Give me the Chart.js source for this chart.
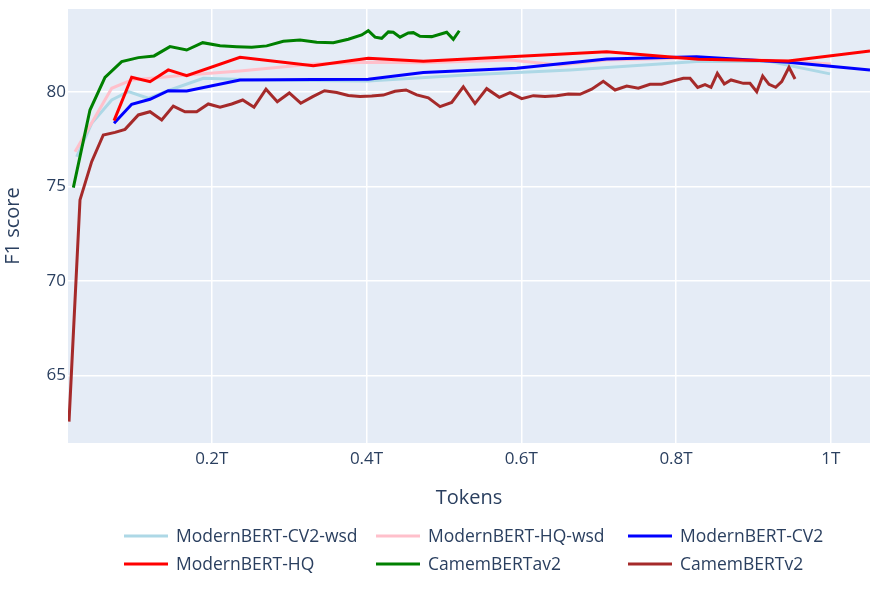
<!DOCTYPE html>
<html>
<head>
<meta charset="utf-8">
<script src="https://cdn.jsdelivr.net/npm/chart.js@4.4.1/dist/chart.umd.min.js"></script>
<style>
  html, body { margin: 0; padding: 0; background: #ffffff; }
  #wrap { width: 877px; height: 603px; position: relative; }
</style>
</head>
<body>
<div id="wrap"><canvas id="c"></canvas></div>
<script>
// ---- Data (tokens in T, F1 score) ----
const seriesNames = ['ModernBERT-CV2-wsd', 'ModernBERT-HQ-wsd', 'ModernBERT-CV2', 'ModernBERT-HQ', 'CamemBERTav2', 'CamemBERTv2'];

const cv2wsdX = [0.0254, 0.0448, 0.0707, 0.0922, 0.118, 0.146, 0.189, 0.262, 0.4023, 0.5338, 0.663, 0.8267, 0.9215, 0.999];
const cv2wsdY = [76.56, 78.33, 79.56, 80.0, 79.65, 80.09, 80.71, 80.62, 80.57, 80.90, 81.15, 81.59, 81.59, 80.94];

const hqwsdX = [0.0233, 0.0707, 0.0965, 0.1676, 0.2365, 0.3312, 0.4023, 0.4734, 0.5855, 0.65, 0.7104, 0.8267, 0.9451, 1.0];
const hqwsdY = [76.83, 80.18, 80.62, 80.88, 81.09, 81.46, 81.55, 81.53, 81.68, 81.41, 81.68, 81.78, 81.62, 81.46];

const cv2X = [0.0737, 0.0965, 0.1202, 0.1438, 0.1676, 0.2365, 0.3312, 0.4023, 0.4734, 0.5941, 0.7104, 0.8267, 0.9451, 1.0507];
const cv2Y = [78.33, 79.33, 79.60, 80.05, 80.04, 80.62, 80.65, 80.66, 81.01, 81.24, 81.73, 81.85, 81.55, 81.15];

const hqX = [0.0737, 0.0965, 0.1202, 0.1438, 0.1676, 0.2365, 0.3312, 0.4023, 0.4734, 0.7104, 0.8288, 0.9451, 1.0507];
const hqY = [78.47, 80.76, 80.53, 81.15, 80.85, 81.82, 81.37, 81.77, 81.61, 82.11, 81.71, 81.62, 82.15];

const camav2X = [0.0211, 0.0426, 0.0620, 0.0836, 0.1051, 0.1254, 0.1460, 0.1676, 0.1883, 0.2107, 0.2322, 0.2516, 0.2710, 0.2925, 0.3141, 0.3356, 0.3571, 0.3765, 0.3938, 0.4023, 0.4110, 0.4196, 0.4282, 0.4346, 0.4433, 0.4540, 0.4605, 0.4691, 0.4843, 0.5036, 0.5122, 0.5199];
const camav2Y = [74.93, 79.03, 80.76, 81.59, 81.80, 81.89, 82.38, 82.20, 82.59, 82.43, 82.38, 82.35, 82.42, 82.66, 82.73, 82.61, 82.59, 82.77, 83.00, 83.22, 82.88, 82.82, 83.16, 83.14, 82.88, 83.10, 83.12, 82.93, 82.91, 83.14, 82.77, 83.22];

const camv2X = [0.0155, 0.0297, 0.0448, 0.0598, 0.0750, 0.0879, 0.1051, 0.1202, 0.1353, 0.1503, 0.1654, 0.1805, 0.1955, 0.2107, 0.2258, 0.2400, 0.2546, 0.2701, 0.2847, 0.3002, 0.3150, 0.3305, 0.3457, 0.3615, 0.3765, 0.3916, 0.4067, 0.4217, 0.4368, 0.4511, 0.4649, 0.4799, 0.4950, 0.5101, 0.5251, 0.5402, 0.5553, 0.5716, 0.5855, 0.6006, 0.6156, 0.6307, 0.6458, 0.6608, 0.6759, 0.6910, 0.7060, 0.7212, 0.7363, 0.7513, 0.7664, 0.7815, 0.7965, 0.8094, 0.8181, 0.8280, 0.8375, 0.8452, 0.8534, 0.8624, 0.8711, 0.8870, 0.8956, 0.9043, 0.9120, 0.9202, 0.9288, 0.9366, 0.9460, 0.9538];
const camv2Y = [62.56, 74.28, 76.30, 77.71, 77.85, 78.01, 78.77, 78.94, 78.50, 79.24, 78.94, 78.94, 79.35, 79.18, 79.35, 79.56, 79.18, 80.13, 79.47, 79.93, 79.39, 79.74, 80.05, 79.96, 79.80, 79.74, 79.77, 79.82, 80.02, 80.09, 79.83, 79.67, 79.21, 79.43, 80.26, 79.37, 80.16, 79.70, 79.95, 79.63, 79.79, 79.74, 79.79, 79.88, 79.86, 80.13, 80.55, 80.09, 80.30, 80.18, 80.39, 80.39, 80.57, 80.71, 80.71, 80.22, 80.37, 80.23, 80.97, 80.41, 80.62, 80.44, 80.44, 80.00, 80.83, 80.39, 80.23, 80.53, 81.29, 80.67];

const xTickValues = [0.2, 0.4, 0.6, 0.8, 1.0];
const xTickLabels = ['0.2T', '0.4T', '0.6T', '0.8T', '1T'];
const yTickValues = [65, 70, 75, 80];
const yTickLabels = ['65', '70', '75', '80'];

// ---- Build datasets ----
const zip = (xs, ys) => xs.map((x, i) => ({ x: x, y: ys[i] }));
const colors = ['#add8e6', '#ffc0cb', '#0000ff', '#ff0000', '#008000', '#a52a2a'];
const allX = [cv2wsdX, hqwsdX, cv2X, hqX, camav2X, camv2X];
const allY = [cv2wsdY, hqwsdY, cv2Y, hqY, camav2Y, camv2Y];

const datasets = seriesNames.map((name, i) => ({
  label: name,
  data: zip(allX[i], allY[i]),
  borderColor: colors[i],
  backgroundColor: colors[i],
  borderWidth: 3,
  pointRadius: 0,
  pointHoverRadius: 0,
  tension: 0,
  fill: false,
  order: seriesNames.length - i
}));

const FONT = '"Open Sans", "Noto Sans", sans-serif';
const TXT = '#2a3f5f';

const bgPlugin = {
  id: 'plotBg',
  beforeDraw(chart) {
    const { ctx, chartArea: a } = chart;
    ctx.save();
    ctx.fillStyle = '#ffffff';
    ctx.fillRect(0, 0, chart.width, chart.height);
    ctx.fillStyle = '#e5ecf6';
    ctx.fillRect(a.left, a.top, a.right - a.left, a.bottom - a.top);
    ctx.restore();
  }
};

const legendPlugin = {
  id: 'plotlyLegend',
  afterDraw(chart) {
    const ctx = chart.ctx;
    const cols = [124, 376, 628];
    const rows = [536, 564];
    chart.data.datasets.forEach((ds, i) => {
      const x = cols[i % 3];
      const y = rows[Math.floor(i / 3)];
      ctx.save();
      ctx.strokeStyle = ds.borderColor;
      ctx.lineWidth = 3;
      ctx.beginPath();
      ctx.moveTo(x, y);
      ctx.lineTo(x + 44, y);
      ctx.stroke();
      ctx.fillStyle = TXT;
      ctx.font = '17.5px ' + FONT;
      ctx.textBaseline = 'middle';
      ctx.textAlign = 'left';
      ctx.fillText(ds.label, x + 52, y + 1);
      ctx.restore();
    });
  }
};

new Chart(document.getElementById('c'), {
  type: 'line',
  data: { datasets: datasets },
  plugins: [bgPlugin, legendPlugin],
  options: {
    responsive: true,
    maintainAspectRatio: false,
    animation: false,
    layout: { padding: { top: 9, right: 7, bottom: 0, left: 0 } },
    plugins: {
      legend: { display: false },
      tooltip: { enabled: false },
      title: { display: false }
    },
    scales: {
      x: {
        type: 'linear',
        min: 0.0142,
        max: 1.0507,
        border: { display: false },
        grid: { color: '#ffffff', lineWidth: 1.5, drawTicks: false },
        afterBuildTicks: (s) => { s.ticks = xTickValues.map(v => ({ value: v })); },
        afterFit: (s) => { s.height = 160; s.paddingLeft = 0; s.paddingRight = 0; },
        ticks: {
          color: TXT,
          font: { family: FONT, size: 17 },
          padding: 6,
          maxRotation: 0,
          callback: (v) => { const k = xTickValues.findIndex(t => Math.abs(t - v) < 1e-9); return k >= 0 ? xTickLabels[k] : ''; }
        },
        title: {
          display: true,
          text: 'Tokens',
          color: TXT,
          font: { family: FONT, size: 20 },
          padding: { top: 0, bottom: 93 }
        }
      },
      y: {
        type: 'linear',
        min: 61.43,
        max: 84.37,
        border: { display: false },
        grid: { color: '#ffffff', lineWidth: 1.5, drawTicks: false },
        afterBuildTicks: (s) => { s.ticks = yTickValues.map(v => ({ value: v })); },
        afterFit: (s) => { s.width = 68; s.paddingTop = 0; s.paddingBottom = 0; },
        ticks: {
          color: TXT,
          font: { family: FONT, size: 17 },
          padding: 2,
          callback: (v) => { const k = yTickValues.indexOf(v); return k >= 0 ? yTickLabels[k] : ''; }
        },
        title: {
          display: true,
          text: 'F1 score',
          color: TXT,
          font: { family: FONT, size: 20 },
          padding: { top: 1, bottom: 0 }
        }
      }
    }
  }
});
</script>
</body>
</html>
